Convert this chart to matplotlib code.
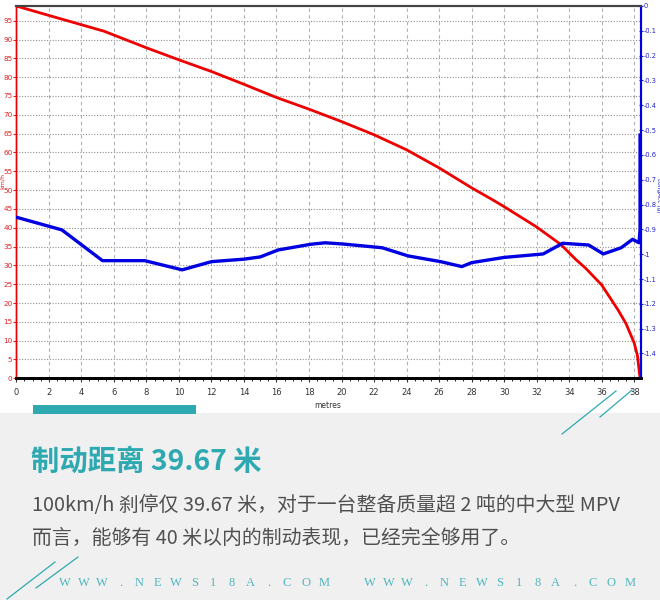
import matplotlib.pyplot as plt
from matplotlib.patches import Rectangle
from matplotlib.lines import Line2D

##############################################################################################################################
# data

# speed trace (km/h) against distance (m)
speed_dist = [0, 2, 5.4, 8, 10, 12, 14, 16, 18, 20, 22, 24, 26, 28, 29.3, 30, 32, 33.5,
              34.4, 35, 36, 37, 37.5, 38, 38.2, 38.36]
speed = [98.9, 96.4, 92.2, 87.8, 84.6, 81.5, 78.1, 74.6, 71.5, 68.2, 64.7, 60.7, 55.9, 50.6,
         47.4, 45.6, 40.2, 35.5, 31.6, 29.3, 24.8, 18.2, 14.5, 9.4, 6.0, 0]

# longitudinal acceleration (g) against distance (m)
acc_dist = [0, 2.8, 5.3, 7.9, 10.2, 12, 14, 15, 16.1, 18.1, 19, 20.1, 22.5, 24.1, 26.1, 27.4,
            28, 30, 32.4, 33.6, 35.2, 36.1, 37.2, 37.9, 38.3, 38.36, 38.36]
acc = [-0.851, -0.902, -1.026, -1.026, -1.063, -1.03, -1.02, -1.011, -0.983, -0.96, -0.954,
       -0.959, -0.974, -1.007, -1.03, -1.05, -1.034, -1.013, -0.999, -0.956, -0.963, -0.999,
       -0.974, -0.94, -0.954, -0.9, -0.52]

x_ticks = list(range(0, 39, 2))
speed_ticks = list(range(0, 100, 5))
acc_ticks = [0, -0.1, -0.2, -0.3, -0.4, -0.5, -0.6, -0.7, -0.8, -0.9, -1, -1.1, -1.2, -1.3, -1.4]

title = '制动距离 39.67 米'
body = ['100km/h 刹停仅 39.67 米，对于一台整备质量超 2 吨的中大型 MPV',
        '而言，能够有 40 米以内的制动表现，已经完全够用了。']
watermark = 'WWW.NEWS18A.COM'

##############################################################################################################################
# plot

W, H = 660, 600
TEAL = '#2fa9b1'
small = ['DejaVu Sans Condensed', 'Liberation Sans Narrow', 'DejaVu Sans']
cjk = ['Noto Sans CJK SC', 'DejaVu Sans']

fig = plt.figure(figsize=(W / 100, H / 100), dpi=100)
fig.patch.set_facecolor('white')

def fx(px):
    return px / W

def fy(py):
    return 1 - py / H

# grey lower panel
fig.patches.append(Rectangle((0, 0), 1, fy(413), transform=fig.transFigure,
                             facecolor='#f0f0f0', edgecolor='none', zorder=0))

ax = fig.add_axes([fx(16.3), fy(378.3), fx(640.7 - 16.3), (378.3 - 6) / H])
ax2 = ax.twinx()

ax.plot(speed_dist, speed, color='#ee0000', lw=2.0, zorder=3)
ax2.plot(acc_dist, acc, color='#0000e0', lw=2.4, zorder=3)

ax.set_xlim(0, 38.4)
ax.set_ylim(0, 98.9)
ax2.set_ylim(-1.5, 0)

ax.set_xticks(x_ticks)
ax.set_xticks([v * 0.5 for v in range(0, 77)], minor=True)
ax.set_yticks(speed_ticks)
ax2.set_yticks(acc_ticks)
ax2.set_yticklabels(['%g' % v for v in acc_ticks])

ax.grid(axis='x', color='#b0b0b0', ls=(0, (3, 3)), lw=0.8)
ax.grid(axis='y', color='#909090', ls=(0, (1, 1.5)), lw=0.8)
ax.set_axisbelow(True)

ax.tick_params(axis='x', length=3, width=0.8, pad=4, labelsize=6, colors='#333333')
ax.tick_params(axis='x', which='minor', length=2, width=0.6)
ax.tick_params(axis='y', length=2, width=0.8, pad=0.8, labelsize=5.2, colors='#dd2222')
ax2.tick_params(axis='y', direction='inout', length=3, width=0.8, pad=0.3, labelsize=4.8,
                colors='#2222cc')
for lab in ax.get_xticklabels() + ax.get_yticklabels() + ax2.get_yticklabels():
    lab.set_family(small)

for a in (ax, ax2):
    a.spines['top'].set_color('#444444')
    a.spines['top'].set_linewidth(1.5)
    a.spines['bottom'].set_color('black')
    a.spines['bottom'].set_linewidth(2)
    a.spines['left'].set_color('#ee0000')
    a.spines['left'].set_linewidth(1)
    a.spines['right'].set_color('#0000e0')
    a.spines['right'].set_linewidth(1.5)

fig.text(fx(328), fy(406), 'metres', ha='center', va='center', fontsize=5.5,
         family=small, color='#333333')
fig.text(fx(2.5), fy(181), 'km/h', ha='center', va='center', rotation=90, fontsize=4.5,
         family=small, color='#dd2222')
fig.text(fx(658.2), fy(195), 'LongAcc (g)', ha='center', va='center', rotation=270,
         fontsize=4.2, family=small, color='#2222cc')

# decoration: teal bar and diagonal strokes
fig.patches.append(Rectangle((fx(33), fy(414)), fx(196 - 33), 9 / H, transform=fig.transFigure,
                             facecolor=TEAL, edgecolor='none', zorder=2))
for (x0, y0), (x1, y1) in [((562, 434), (616, 391)), ((600, 417), (632, 390)),
                           ((7, 599), (55, 562)), ((36, 588), (78, 557))]:
    fig.lines.append(Line2D([fx(x0), fx(x1)], [fy(y0), fy(y1)], transform=fig.transFigure,
                            color=TEAL, lw=0.9, zorder=3))

# text block
fig.text(fx(31), fy(462), title, ha='left', va='center', fontsize=20.4, fontweight='bold',
         family=cjk, color=TEAL)
fig.text(fx(32), fy(505), body[0], ha='left', va='center', fontsize=14.3, fontweight='light',
         family=cjk, color='#505050')
fig.text(fx(32), fy(538), body[1], ha='left', va='center', fontsize=14.3, fontweight='light',
         family=cjk, color='#505050')

# watermark, letter spaced
for x_start, x_end in [(65, 324), (370, 630)]:
    step = (x_end - x_start) / (len(watermark) - 1)
    for i, ch in enumerate(watermark):
        fig.text(fx(x_start + i * step), fy(583), ch, ha='center', va='center', fontsize=9,
                 family=['Liberation Serif', 'DejaVu Serif'], color='#4fb6bd')

fig.savefig('out.png', dpi=100)
